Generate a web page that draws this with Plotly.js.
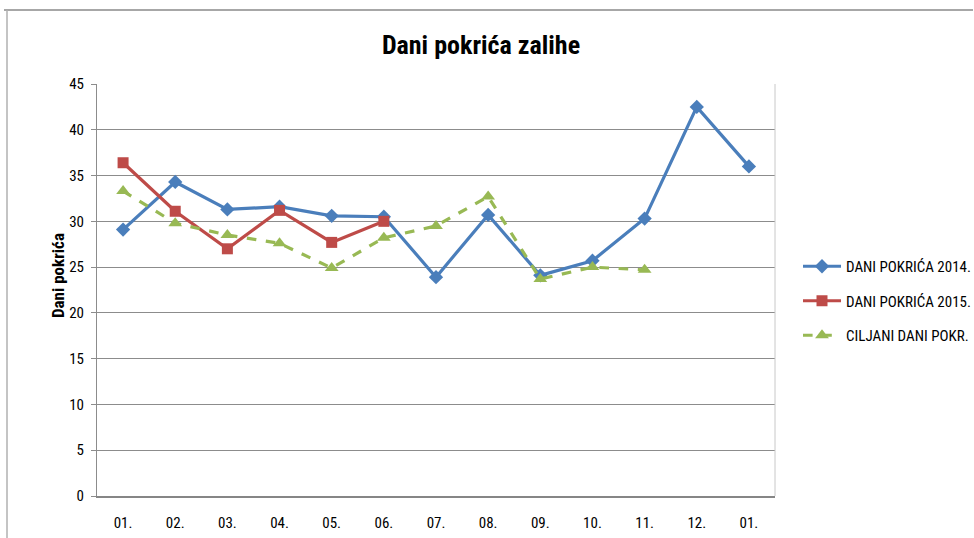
<!DOCTYPE html>
<html>
<head>
<meta charset="utf-8">
<script src="https://cdn.plot.ly/plotly-3.0.1.min.js"></script>
<style>
html,body{margin:0;padding:0;background:#fff;}
#chart{width:974px;height:538px;}
</style>
</head>
<body>
<div id="chart"></div>
<script>
var months = ["01.", "02.", "03.", "04.", "05.", "06.", "07.", "08.", "09.", "10.", "11.", "12.", "01."];
var dani2014 = [29.1, 34.3, 31.3, 31.6, 30.6, 30.5, 23.9, 30.7, 24.1, 25.7, 30.3, 42.5, 36.0];
var dani2015 = [36.4, 31.1, 27.0, 31.2, 27.7, 30.0];
var ciljani = [33.3, 29.8, 28.5, 27.6, 24.9, 28.2, 29.5, 32.7, 23.7, 25.0, 24.7];
var seriesNames = ["DANI POKRIĆA 2014.", "DANI POKRIĆA 2015.", "CILJANI DANI POKR."];
var yTitle = "Dani pokrića";

function idx(arr){ return arr.map(function(_, i){ return i; }); }

var FONT = '"Liberation Sans Narrow", "Roboto Condensed", "Open Sans", sans-serif';

var traces = [
  {x: idx(dani2014), y: dani2014, name: seriesNames[0], type: 'scatter', mode: 'lines+markers',
   line: {color: '#4A7EBB', width: 3.2}, marker: {symbol: 'diamond', size: 11, color: '#4A7EBB'},
   legendgroup: 'a'},
  {x: idx(dani2015), y: dani2015, name: seriesNames[1], type: 'scatter', mode: 'lines+markers',
   line: {color: '#BE4B48', width: 3.2}, marker: {symbol: 'square', size: 11, color: '#BE4B48'},
   legendgroup: 'b'},
  {x: idx(ciljani), y: ciljani, name: seriesNames[2], type: 'scatter', mode: 'lines+markers',
   line: {color: '#98B954', width: 3.2, dash: 'dash'}, marker: {symbol: 'triangle-up', size: 12, color: '#98B954'},
   legendgroup: 'c'}
];

var L = 97, R = 775, T = 84, B = 496, W = 974, H = 538;
function px(p){ return (p - L) / (R - L); }
function py(p){ return (B - p) / (B - T); }

var layout = {
  width: W, height: H,
  margin: {l: L, r: W - R, t: T, b: H - B, pad: 0, autoexpand: false},
  paper_bgcolor: '#fff', plot_bgcolor: '#fff',
  font: {family: FONT, size: 13, color: '#000'},
  title: {text: '<b>Dani pokrića zalihe</b>', font: {family: FONT, size: 26, color: '#000'},
          x: 481 / W, xref: 'container', xanchor: 'center', y: 1 - 45/H, yref: 'container', yanchor: 'middle'},
  xaxis: {
    range: [-0.5, 12.5], tickmode: 'array', tickvals: idx(months), ticktext: months,
    showgrid: false, zeroline: false, showline: true, linecolor: '#868686', linewidth: 2,
    ticks: '', tickfont: {family: FONT, size: 15, color: '#000'}, ticklabelstandoff: 12, fixedrange: true,
    automargin: false
  },
  yaxis: {
    range: [0, 45], tickvals: [0,5,10,15,20,25,30,35,40,45], showgrid: true, gridcolor: '#8c8c8c', gridwidth: 1,
    zeroline: false, showline: true, linecolor: '#8c8c8c', linewidth: 1,
    ticks: 'outside', ticklen: 5, tickcolor: '#8c8c8c', tickfont: {family: FONT, size: 15, color: '#000'},
    ticklabelstandoff: 4,
    fixedrange: true, automargin: false
  },
  annotations: [
    {text: '<b>' + yTitle + '</b>', xref: 'paper', yref: 'paper', x: px(58), y: py(276),
     xanchor: 'center', yanchor: 'middle', textangle: -90, showarrow: false,
     font: {family: FONT, size: 17, color: '#000'}}
  ],
  legend: {x: px(798), xanchor: 'left', y: py(250), yanchor: 'top', traceorder: 'grouped', tracegroupgap: 12,
           font: {family: FONT, size: 15, color: '#000'}, bgcolor: 'rgba(0,0,0,0)', itemwidth: 38},
  showlegend: true,
  shapes: [
    {type: 'line', xref: 'paper', yref: 'paper', x0: px(4), x1: px(973), y0: py(10), y1: py(10), line: {color: '#8a8a8a', width: 1.5}},
    {type: 'line', xref: 'paper', yref: 'paper', x0: px(7), x1: px(7), y0: py(10), y1: py(540), line: {color: '#b0b0b0', width: 1.5}},
    {type: 'line', xref: 'paper', yref: 'paper', x0: 1, x1: 1, y0: 0, y1: 1, line: {color: '#c8c8c8', width: 1}}
  ]
};

Plotly.newPlot('chart', traces, layout, {displayModeBar: false, staticPlot: true});
</script>
</body>
</html>
